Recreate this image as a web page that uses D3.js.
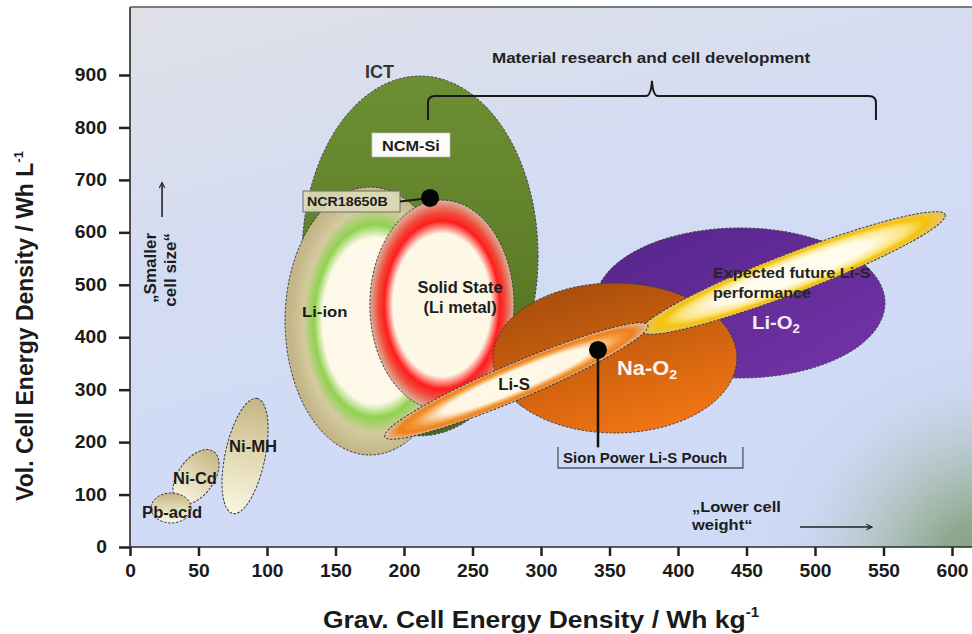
<!DOCTYPE html>
<html><head><meta charset="utf-8">
<script src="https://cdn.jsdelivr.net/npm/d3@7"></script>
<style>
body{margin:0;background:#fff;}
svg{display:block;}
text{font-family:"Liberation Sans",Arial,sans-serif;}
</style>
</head><body>
<svg id="chart" width="972" height="634"></svg>
<script>
// ---------------- DATA ----------------
const technologies = ["Pb-acid","Ni-Cd","Ni-MH","ICT","Li-ion","Solid State","Li-O2","Na-O2","Future Li-S","Li-S"];
// ellipse centres (Wh/kg, Wh/L)
const gravCenter = [30, 48.2, 84, 211.7, 175.2, 227.7, 445.3, 354, 484, 282];
const volCenter  = [74.4, 133.5, 173.5, 555, 431, 461.5, 465.3, 360.4, 522.5, 316.5];
// half axes (major along rotated x, in Wh/kg units; minor in Wh/L units)
const gravHalfAxis = [14.6, 22.6, 42.9, 86.1, 62, 52.6, 105.8, 89, 118.9, 104.3];
const volHalfAxis  = [28.6, 34.3, 38.1, 343, 255.5, 200, 143, 143, 38.1, 34.3];
const tiltDeg      = [0, -55, -78, 0, 0, 0, 0, 0, -21, -23];
const drawOrder    = [1, 0, 2, 3, 4, 5, 6, 7, 8, 9];

const gravTicks = [0,50,100,150,200,250,300,350,400,450,500,550,600];
const volTicks  = [0,100,200,300,400,500,600,700,800,900];

// highlighted cells
const cellNames = ["NCR18650B","Sion Power Li-S Pouch"];
const cellGrav  = [219, 341.6];
const cellVol   = [665.5, 375.7];

// ---------------- LAYOUT ----------------
const W = 972, H = 634;
const x = d3.scaleLinear().domain([0,600]).range([130,952]);
const y = d3.scaleLinear().domain([0,900]).range([547,75]);
const plotTop = 7, plotRight = W;

const svg = d3.select("#chart");
const defs = svg.append("defs");

// ---------------- STYLES ----------------
const tanStops = [[0,"#c4b582"],[0.5,"#e2d9b4"],[1,"#f9f5e1"]];
const fillSpec = {
  "Pb-acid":   {type:"linear", v:[0,0,0,1], stops:tanStops},
  "Ni-Cd":     {type:"linear", v:[1,0,0,0], stops:tanStops},
  "Ni-MH":     {type:"linear", v:[1,0,0,0], stops:tanStops},
  "ICT":       {type:"linear", v:[0,0,0,1], stops:[[0,"#6d8f33"],[0.5,"#5f8029"],[1,"#4a6620"]]},
  "Li-ion":    {type:"radial", c:[0.53,0.5], stops:[[0,"#fdf8e7"],[0.62,"#fdf8e7"],[0.72,"#8fd250"],[0.84,"#d3cb9e"],[1,"#c4b688"]]},
  "Solid State":{type:"radial", c:[0.5,0.5], stops:[[0,"#fdf7e6"],[0.68,"#fdf7e6"],[0.8,"#ff1c1c"],[0.88,"#f24a3a"],[1,"#dbb39c"]]},
  "Li-O2":     {type:"linear", v:[0,0,1,1], stops:[[0,"#55248a"],[1,"#7434a8"]]},
  "Na-O2":     {type:"linear", v:[0.2,0,0.7,1], stops:[[0,"#a44c0c"],[0.45,"#c85e0e"],[1,"#f47614"]]},
  "Future Li-S":{type:"radial", c:[0.5,0.5], stops:[[0,"#fffdf3"],[0.5,"#fffbe8"],[0.74,"#fbe37c"],[0.87,"#f4c20a"],[1,"#e8c46a"]]},
  "Li-S":      {type:"radial", c:[0.5,0.5], stops:[[0,"#fffaeb"],[0.55,"#fff6e2"],[0.77,"#f3983a"],[0.88,"#ef7f1c"],[1,"#e3bf9c"]]}
};

function addStops(g, stops){
  stops.forEach(s=>{
    const st = g.append("stop").attr("offset",s[0]).attr("stop-color",s[1]);
    if (s.length>2) st.attr("stop-opacity",s[2]);
  });
}
technologies.forEach((t,i)=>{
  const f = fillSpec[t];
  let g;
  if (f.type==="linear") {
    g = defs.append("linearGradient").attr("id","g"+i)
      .attr("x1",f.v[0]).attr("y1",f.v[1]).attr("x2",f.v[2]).attr("y2",f.v[3]);
  } else {
    g = defs.append("radialGradient").attr("id","g"+i)
      .attr("cx",f.c[0]).attr("cy",f.c[1]).attr("r",0.5);
  }
  addStops(g, f.stops);
});

// background gradients
const bg = defs.append("linearGradient").attr("id","bg").attr("x1",0).attr("y1",0).attr("x2",0.4).attr("y2",1);
addStops(bg, [[0,"#e0e1e7"],[0.45,"#d4dcf3"],[1,"#cfdaf8"]]);
const corner = defs.append("radialGradient").attr("id","corner")
  .attr("gradientUnits","userSpaceOnUse").attr("cx",990).attr("cy",575).attr("r",280);
addStops(corner, [[0,"#7e9c7a",1],[0.2,"#8ba688",0.95],[0.42,"#a8bcb0",0.7],[0.68,"#c4d0e0",0.3],[1,"#d0dbf5",0]]);

// arrow marker
defs.append("marker").attr("id","arr").attr("viewBox","0 0 10 10")
  .attr("refX",9).attr("refY",5).attr("markerWidth",7).attr("markerHeight",7)
  .attr("markerUnits","userSpaceOnUse").attr("orient","auto")
  .append("path").attr("d","M1,1 L9,5 L1,9").attr("fill","none").attr("stroke","#222").attr("stroke-width",1.6);

// ---------------- PLOT AREA ----------------
svg.append("rect").attr("x",x(0)).attr("y",plotTop).attr("width",plotRight-x(0)).attr("height",y(0)-plotTop).attr("fill","url(#bg)");
svg.append("rect").attr("x",x(0)).attr("y",plotTop).attr("width",plotRight-x(0)).attr("height",y(0)-plotTop).attr("fill","url(#corner)");

// ---------------- ELLIPSES ----------------
const kx = x(1)-x(0), ky = y(0)-y(1);
const eg = svg.append("g");
drawOrder.forEach(i=>{
  eg.append("ellipse")
    .attr("cx",0).attr("cy",0)
    .attr("rx", gravHalfAxis[i]*kx)
    .attr("ry", volHalfAxis[i]*ky)
    .attr("transform", `translate(${x(gravCenter[i])},${y(volCenter[i])}) rotate(${tiltDeg[i]})`)
    .attr("fill", `url(#g${i})`)
    .attr("stroke","#3a3a3a").attr("stroke-width",1)
    .attr("stroke-dasharray","2.5,1.5");
});

// ---------------- ANNOTATIONS ----------------
function label(parts, gx, vy, o){
  o = o||{};
  const t = svg.append("text")
    .attr("transform", `translate(${x(gx)},${y(vy)}) ${o.rot?`rotate(${o.rot})`:""} scale(${o.sx||1},1)`)
    .attr("font-size", o.size||16).attr("font-weight", o.weight||"bold")
    .attr("fill", o.fill||"#1c1c1c").attr("text-anchor", o.anchor||"start");
  if (o.family) t.attr("font-family", o.family);
  (Array.isArray(parts)?parts:[[parts]]).forEach(p=>{
    const ts = t.append("tspan").text(p[0]);
    if (p[1]==="sub") ts.attr("font-size",(o.size||16)*0.65).attr("dy","0.3em");
    if (p[1]==="sup") ts.attr("font-size",(o.size||16)*0.6).attr("dy","-0.75em");
  });
  return t;
}

// bracket "Material research and cell development"
const bl = x(217.5), bm = x(381), br = x(544.5);
const bBase = y(814), bBar = y(860), bPeak = y(889);
svg.append("path")
  .attr("d", `M${bl},${bBase} L${bl},${bBar+7} Q${bl},${bBar} ${bl+7},${bBar} L${bm-6},${bBar} Q${bm-1},${bBar} ${bm},${bPeak} Q${bm+1},${bBar} ${bm+6},${bBar} L${br-7},${bBar} Q${br},${bBar} ${br},${bBar+7} L${br},${bBase}`)
  .attr("fill","none").attr("stroke","#1a1a1a").attr("stroke-width",2);
label("Material research and  cell development", 380.3, 923, {size:15.5, anchor:"middle", sx:1.1, fill:"#222"});

// NCM-Si box
svg.append("rect").attr("x",x(176.6)).attr("y",y(789.5)).attr("width",x(233.6)-x(176.6)).attr("height",y(743.7)-y(789.5))
  .attr("fill","#fbfbf8").attr("stroke","#bbb").attr("stroke-width",0.6);
label("NCM-Si", 205.1, 755, {size:15.5, anchor:"middle", sx:1.05});

// NCR18650B box, line, dot
svg.append("rect").attr("x",x(126.3)).attr("y",y(678.8)).attr("width",x(197.1)-x(126.3)).attr("height",y(638.8)-y(678.8))
  .attr("fill","#dcd9b9").attr("fill-opacity",0.92).attr("stroke","#6d6d6d").attr("stroke-width",1);
svg.append("line").attr("x1",x(197.1)).attr("y1",y(659)).attr("x2",x(cellGrav[0])).attr("y2",y(cellVol[0]))
  .attr("stroke","#1a1a1a").attr("stroke-width",2);
svg.append("circle").attr("cx",x(cellGrav[0])).attr("cy",y(cellVol[0])).attr("r",9).attr("fill","#050505");
label(cellNames[0], 129.2, 649.3, {size:12.5, sx:1.14});

// Sion Power dot, line, bracket box
svg.append("line").attr("x1",x(cellGrav[1])).attr("y1",y(cellVol[1])).attr("x2",x(cellGrav[1])).attr("y2",y(190))
  .attr("stroke","#111").attr("stroke-width",2.5);
svg.append("circle").attr("cx",x(cellGrav[1])).attr("cy",y(cellVol[1])).attr("r",9).attr("fill","#050505");
svg.append("path")
  .attr("d",`M${x(312.4)},${y(190.7)} L${x(312.4)},${y(150.6)} L${x(447.4)},${y(150.6)} L${x(447.4)},${y(190.7)}`)
  .attr("fill","none").attr("stroke","#555").attr("stroke-width",1.3);
label(cellNames[1], 316.1, 160.2, {size:15});

// technology labels
label("Pb-acid", 8.8, 55.3, {sx:1.04});
label("Ni-Cd", 31.4, 120.1, {sx:1.03});
label("Ni-MH", 72.3, 181.2, {sx:1.04});
label("ICT", 171.5, 894.3, {size:18, sx:1.0, fill:"#333"});
label("Li-ion", 125.5, 438.6, {size:15.5, sx:1.08});
label("Solid State", 240.9, 484.4, {anchor:"middle", sx:1.03});
label("(Li metal)", 240.9, 446.2, {anchor:"middle", sx:1.03});
label("Li-S", 280.3, 299.4, {anchor:"middle", sx:1.05});
label([["Na-O"],["2","sub"]], 355.5, 328, {size:19.5, fill:"#fff6ee", sx:1.12});
label([["Li-O"],["2","sub"]], 454, 415.7, {size:19, fill:"#f4eefa", sx:1.07});
label("Expected future Li-S", 425.5, 513, {size:15, sx:1.08, fill:"#242424"});
label("performance", 425.5, 474.8, {size:15, sx:1.08, fill:"#242424"});

// "Smaller cell size" (rotated) and arrow
label("\u201ESmaller", 18.9, 598.8, {size:17, rot:-90, anchor:"end"});
label("cell size\u201C", 33.6, 598.8, {size:17, rot:-90, anchor:"end"});
svg.append("line").attr("x1",x(23.4)).attr("y1",y(629)).attr("x2",x(23.4)).attr("y2",y(695))
  .attr("stroke","#222").attr("stroke-width",1.6).attr("marker-end","url(#arr)");

// "Lower cell weight" and arrow
label("\u201ELower cell", 410.2, 66.7, {size:15, sx:1.1});
label("weight\u201C", 410.2, 31.5, {size:15, sx:1.1});
svg.append("line").attr("x1",x(489.1)).attr("y1",y(38.1)).attr("x2",x(541.6)).attr("y2",y(38.1))
  .attr("stroke","#222").attr("stroke-width",1.6).attr("marker-end","url(#arr)");

// ---------------- AXES ----------------
const tickFont = g => g.selectAll(".tick text")
  .attr("font-size",17.5).attr("font-weight","bold").attr("fill","#1a1a1a")
  .attr("font-family",'"Liberation Sans",Arial,sans-serif');

svg.append("g").attr("transform",`translate(${x(0)},0)`)
  .call(d3.axisLeft(y).tickValues(volTicks).tickSize(11).tickPadding(10).tickFormat(d3.format("d")))
  .call(g=>g.select(".domain").remove())
  .call(g=>g.selectAll(".tick line").attr("stroke","#222").attr("stroke-width",2.5))
  .call(tickFont)
  .call(g=>g.selectAll(".tick text").attr("transform","scale(1.1,1)"));

svg.append("g").attr("transform",`translate(0,${y(0)})`)
  .call(d3.axisBottom(x).tickValues(gravTicks).tickSize(9).tickPadding(9).tickFormat(d3.format("d")))
  .call(g=>g.select(".domain").remove())
  .call(g=>g.selectAll(".tick line").attr("stroke","#222").attr("stroke-width",2.5))
  .call(tickFont)
  .call(g=>g.selectAll(".tick text").attr("transform","scale(1.1,1)"));

// frame
svg.append("line").attr("x1",x(0)).attr("y1",plotTop).attr("x2",x(0)).attr("y2",y(0)+1).attr("stroke","#2a2a2a").attr("stroke-width",1.6);
svg.append("line").attr("x1",x(0)).attr("y1",y(0)).attr("x2",plotRight).attr("y2",y(0)).attr("stroke","#2a2a2a").attr("stroke-width",1.6);
svg.append("line").attr("x1",x(0)).attr("y1",plotTop).attr("x2",plotRight).attr("y2",plotTop).attr("stroke","#555").attr("stroke-width",1.3);

// axis titles
svg.append("text").attr("transform",`translate(${x(300)},628) scale(1.08,1)`)
  .attr("text-anchor","middle").attr("font-size",24.5).attr("font-weight","bold").attr("fill","#1a1a1a")
  .call(t=>{ t.append("tspan").text("Grav. Cell Energy Density / Wh kg");
             t.append("tspan").text("-1").attr("font-size",14).attr("dy","-0.8em"); });
svg.append("text").attr("transform",`translate(33,${(y(0)+plotTop)/2+49}) rotate(-90)`)
  .attr("text-anchor","middle").attr("font-size",23).attr("font-weight","bold").attr("fill","#1a1a1a")
  .call(t=>{ t.append("tspan").text("Vol. Cell Energy Density / Wh L");
             t.append("tspan").text("-1").attr("font-size",13).attr("dy","-0.8em"); });
</script>
</body></html>
